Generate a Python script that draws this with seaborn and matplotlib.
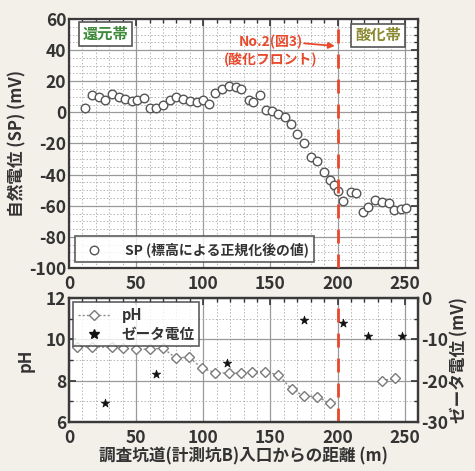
import numpy as np
import pandas as pd
import seaborn as sns
import matplotlib.pyplot as plt
from matplotlib.ticker import MultipleLocator
from matplotlib.lines import Line2D

# SP (normalised by elevation), distance in m and potential in mV
sp_dist = [12, 17, 22, 27, 32, 37, 42, 47, 51, 56, 60, 65, 70, 75, 80, 85, 90, 95,
           100, 104, 109, 114, 119, 124, 128, 134, 137, 142, 147, 151, 156, 161, 165,
           170, 175, 180, 185, 190, 194, 197, 200, 204, 210, 214, 219, 223, 228, 233,
           238, 242, 247, 251]
sp_mv = [2.5, 11, 9.6, 7.7, 11.5, 9.6, 8.3, 7, 8, 9, 2.6, 2.6, 5, 7.7, 9.6, 8.3, 7, 6.4,
         8, 5.3, 12.6, 14.8, 17.2, 16, 15.2, 7.7, 6.6, 11.3, 1.3, 0.8, -0.8, -3, -7.2,
         -13.7, -19.5, -28.6, -31, -38.2, -43.3, -46.9, -50.6, -57, -51, -52.1, -64, -61,
         -56.4, -57.5, -58.5, -62.8, -62, -61.2]

# pH, two line segments (gap between 194 m and 233 m)
ph_dist = [6, 17, 32, 40, 50, 60, 70, 80, 89, 99, 109, 119, 128, 136, 146, 156, 166,
           175, 185, 194, 233, 243]
ph_val = [9.61, 9.64, 9.61, 9.57, 9.52, 9.52, 9.57, 9.08, 9.16, 8.6, 8.39, 8.36, 8.36,
          8.44, 8.44, 8.27, 7.58, 7.26, 7.23, 6.9, 8.0, 8.11]
ph_seg = [0] * 20 + [1] * 2

# zeta potential (mV)
zeta_dist = [27, 65, 118, 175, 204, 223, 248]
zeta_mv = [-25.5, -18.4, -15.8, -5.3, -6.1, -9.1, -9.1]

sp_df = pd.DataFrame({"dist": sp_dist, "sp": sp_mv})
ph_df = pd.DataFrame({"dist": ph_dist, "ph": ph_val, "seg": ph_seg})
zeta_df = pd.DataFrame({"dist": zeta_dist, "zeta": zeta_mv})

sns.set_theme(style="white")
plt.rcParams['font.family'] = ['Noto Sans CJK JP', 'DejaVu Sans']
plt.rcParams['font.weight'] = 'bold'
plt.rcParams['axes.labelweight'] = 'bold'
plt.rcParams['axes.unicode_minus'] = False

TXT = '#333333'
RED = '#e8492b'
BG = '#f3efe9'

fig = plt.figure(figsize=(4.75, 4.71), dpi=100, facecolor=BG)
ax1 = fig.add_axes([0.1453, 0.431, 0.735, 0.5287])
ax2 = fig.add_axes([0.1453, 0.104, 0.735, 0.2633])


def style_axes(ax, xminor, yminor):
    ax.set_facecolor('white')
    ax.set_xlim(0, 260)
    ax.xaxis.set_major_locator(MultipleLocator(50))
    ax.xaxis.set_minor_locator(MultipleLocator(xminor))
    ax.yaxis.set_minor_locator(MultipleLocator(yminor))
    ax.grid(which='major', color='#9a9a9a', lw=0.9, ls='-')
    ax.grid(which='minor', color='#b5b5b5', lw=0.7, ls=(0, (1.5, 2)))
    ax.set_axisbelow(True)
    ax.tick_params(which='both', direction='in', top=True, right=True,
                   colors='#333333', labelcolor=TXT, labelsize=12.5)
    ax.tick_params(axis='x', pad=5)
    ax.tick_params(axis='y', pad=2)
    ax.tick_params(which='major', length=5, width=1.2)
    ax.tick_params(which='minor', length=3, width=1)
    for s in ax.spines.values():
        s.set_color('#3a3a3a')
        s.set_linewidth(1.6)


# ---- top: SP ----
style_axes(ax1, 10, 5)
ax1.set_ylim(-100, 60)
ax1.yaxis.set_major_locator(MultipleLocator(20))
sns.scatterplot(data=sp_df, x='dist', y='sp', ax=ax1, marker='o', s=38,
                facecolor='white', edgecolor='#555555', linewidth=1.0, zorder=3,
                label='SP (標高による正規化後の値)')
ax1.axvline(200, color=RED, lw=2, dashes=(5, 4), zorder=4)
ax1.set_xlabel('')
ax1.set_ylabel('自然電位 (SP) (mV)', fontsize=12, color=TXT, labelpad=2)
ax1.legend(loc='lower left', frameon=True, fancybox=False, fontsize=10,
           edgecolor='#444444', borderaxespad=0.4, handletextpad=1.2,
           labelcolor=TXT).get_frame().set_linewidth(1.3)
ax1.text(10, 50.5, '還元帯', color='#3e8a3a', fontsize=11, fontweight='bold',
         ha='left', va='center',
         bbox=dict(boxstyle='square,pad=0.25', fc='white', ec='#555555', lw=1.2))
ax1.text(213, 49.5, '酸化帯', color='#8a8a32', fontsize=11, fontweight='bold',
         ha='left', va='center',
         bbox=dict(boxstyle='square,pad=0.25', fc='white', ec='#555555', lw=1.2))
ax1.annotate('', xy=(200, 42.5), xytext=(173, 44.5),
             arrowprops=dict(arrowstyle='-|>', color=RED, lw=1.3, mutation_scale=9))
ax1.text(150, 45, 'No.2(図3)', color=RED, fontsize=10, fontweight='bold',
         ha='center', va='center')
ax1.text(150, 33.5, '(酸化フロント)', color=RED, fontsize=10, fontweight='bold',
         ha='center', va='center')

# ---- bottom: pH + zeta ----
style_axes(ax2, 10, 1)
ax2.set_ylim(6, 12)
ax2.yaxis.set_major_locator(MultipleLocator(2))
ax2.tick_params(which='both', right=False)
sns.lineplot(data=ph_df, x='dist', y='ph', units='seg', estimator=None, ax=ax2,
             color='#8a8a8a', lw=1.0, ls=(0, (1.5, 1.5)), marker='D', markersize=5.5,
             markerfacecolor='white', markeredgecolor='#7a7a7a', markeredgewidth=1.0,
             zorder=3, legend=False)
ax2.axvline(200, color=RED, lw=2, dashes=(5, 4), zorder=4)
ax2.set_xlabel('調査坑道(計測坑B)入口からの距離 (m)', fontsize=12, color=TXT, labelpad=0)
ax2.set_ylabel('pH', fontsize=12, color=TXT, labelpad=8)

ax3 = ax2.twinx()
ax3.set_ylim(-30, 0)
ax3.yaxis.set_major_locator(MultipleLocator(10))
ax3.yaxis.set_minor_locator(MultipleLocator(5))
sns.scatterplot(data=zeta_df, x='dist', y='zeta', ax=ax3, marker='*', s=40,
                color='#111111', edgecolor='#111111', linewidth=0.5, zorder=5)
ax3.tick_params(which='both', direction='in', colors='#333333', labelcolor=TXT,
                labelsize=12.5, pad=2)
ax3.tick_params(which='major', length=5, width=1.2)
ax3.tick_params(which='minor', length=3, width=1)
ax3.set_ylabel('ゼータ電位 (mV)', fontsize=12, color=TXT, rotation=90, labelpad=2)
for s in ax3.spines.values():
    s.set_color('#3a3a3a')
    s.set_linewidth(1.6)

handles = [
    Line2D([], [], color='#8a8a8a', lw=1.0, ls=(0, (1.5, 1.5)), marker='D',
           markersize=5.5, markerfacecolor='white', markeredgecolor='#7a7a7a'),
    Line2D([], [], color='#111111', lw=0, marker='*', markersize=7),
]
leg = ax3.legend(handles, ['pH', 'ゼータ電位'], loc='upper left', frameon=True,
                 fancybox=False, fontsize=10.5, edgecolor='#444444',
                 borderaxespad=0.3, labelcolor=TXT, handlelength=2.2,
                 borderpad=0.3, labelspacing=0.2)
leg.get_frame().set_linewidth(1.3)

fig.savefig('out.png', dpi=100, facecolor=BG)
